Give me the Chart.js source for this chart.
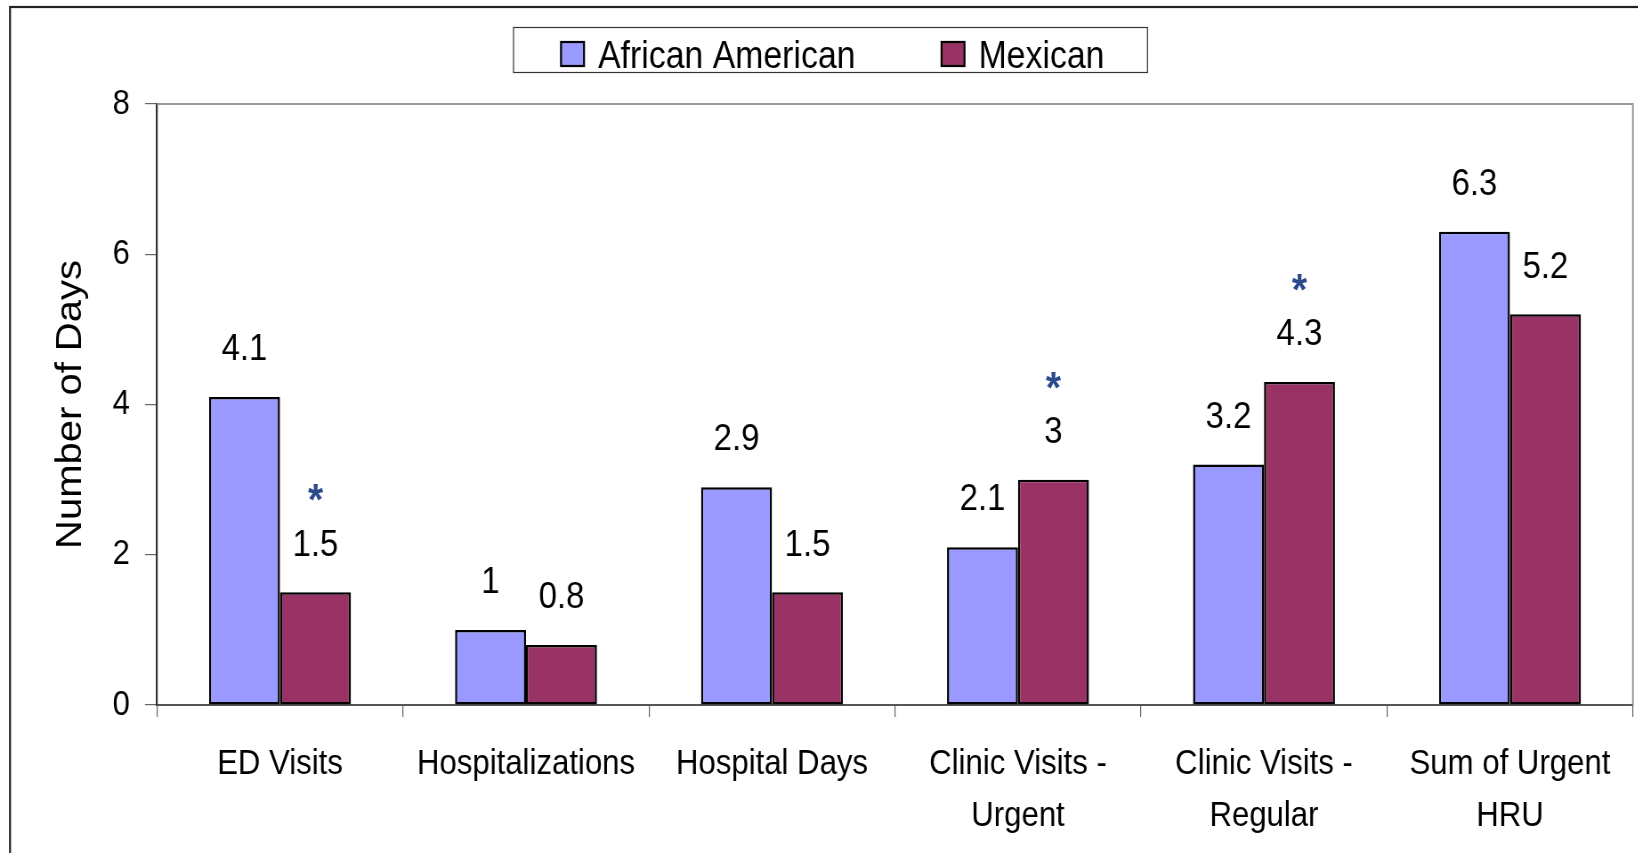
<!DOCTYPE html>
<html>
<head>
<meta charset="utf-8">
<title>Health resource use by group</title>
<script src="https://cdn.jsdelivr.net/npm/chart.js@4.4.1/dist/chart.umd.min.js"></script>
<style>
  html, body { margin: 0; padding: 0; background: #ffffff; overflow: hidden; }
  /* the source picture is horizontally condensed, so draw wide and squeeze */
  #wrap { position: relative; height: 853px; transform-origin: 0 0; }
</style>
</head>
<body>
<div id="wrap"><canvas id="hru-chart"></canvas></div>
<script>
// Data
const categories = [
  'ED Visits',
  'Hospitalizations',
  'Hospital Days',
  ['Clinic Visits -', 'Urgent'],
  ['Clinic Visits -', 'Regular'],
  ['Sum of Urgent', 'HRU']
];
const africanAmerican = [4.1, 1, 2.9, 2.1, 3.2, 6.3];
const mexican = [1.5, 0.8, 1.5, 3, 4.3, 5.2];
const mexicanSignificant = [true, false, false, true, true, false]; // the blue asterisks
const yMin = 0;
const yMax = 8;
const yStep = 2;
const seriesNames = ['African American', 'Mexican'];
const seriesColors = ['#9999FF', '#993366'];

const SX = 0.89;          // horizontal squeeze of the whole picture
const px = (v) => v / SX; // page x -> canvas x
const SANS = "'Liberation Sans', Arial, sans-serif";

const wrap = document.getElementById('wrap');
wrap.style.width = px(1638) + 'px';
wrap.style.transform = 'scaleX(' + SX + ')';

// frame, plot border, value labels, asterisks and boxed legend
const decorations = {
  id: 'decorations',
  afterDatasetsDraw(chart) {
    const ctx = chart.ctx;
    ctx.save();
    ctx.fillStyle = '#000000';
    ctx.font = '37px ' + SANS;
    ctx.textAlign = 'center';
    ctx.textBaseline = 'middle';
    chart.data.datasets.forEach((ds, i) => {
      const meta = chart.getDatasetMeta(i);
      meta.data.forEach((bar, j) => {
        ctx.fillText(String(ds.data[j]), bar.x, bar.y - 47);
      });
    });
    // significance markers above the Mexican labels
    const mexMeta = chart.getDatasetMeta(1);
    ctx.fillStyle = '#2B4A8C';
    ctx.font = 'bold 44px ' + SANS;
    ctx.textBaseline = 'alphabetic';
    mexMeta.data.forEach((bar, j) => {
      if (mexicanSignificant[j]) {
        ctx.fillText('*', bar.x, bar.y - 102 + 0.57 * 44);
      }
    });
    ctx.restore();
  },
  afterDraw(chart) {
    const ctx = chart.ctx;
    const area = chart.chartArea;
    ctx.save();
    // outer frame (runs off the right and bottom of the picture)
    ctx.strokeStyle = '#222222';
    ctx.lineWidth = 2.2;
    ctx.strokeRect(px(10), 7, px(1700), 900);
    // plot area border, top and right
    ctx.strokeStyle = '#999999';
    ctx.lineWidth = 2;
    ctx.beginPath();
    ctx.moveTo(area.left, area.top);
    ctx.lineTo(area.right, area.top);
    ctx.lineTo(area.right, area.bottom);
    ctx.stroke();

    // legend box
    ctx.strokeStyle = '#333333';
    ctx.lineWidth = 1.2;
    ctx.strokeRect(px(513.5), 27.5, px(634), 45);
    ctx.font = '38px ' + SANS;
    ctx.textAlign = 'left';
    ctx.textBaseline = 'alphabetic';
    let x = px(561);
    chart.data.datasets.forEach((ds) => {
      ctx.fillStyle = ds.backgroundColor;
      ctx.fillRect(x, 42, px(23), 24);
      ctx.strokeStyle = '#000000';
      ctx.lineWidth = 2.2;
      ctx.strokeRect(x, 42, px(23), 24);
      ctx.fillStyle = '#000000';
      ctx.fillText(ds.label, x + px(37), 68);
      x += px(37) + ctx.measureText(ds.label).width + px(86);
    });
    ctx.restore();
  }
};

function createHruChart() {
  const hruCtx = document.getElementById('hru-chart').getContext('2d');
  new Chart(hruCtx, {
    type: 'bar',
    data: {
      labels: categories,
      datasets: [{
        label: seriesNames[0],
        data: africanAmerican,
        backgroundColor: seriesColors[0],
        borderColor: '#000000',
        borderWidth: 2.5,
        borderSkipped: false
      }, {
        label: seriesNames[1],
        data: mexican,
        backgroundColor: seriesColors[1],
        borderColor: '#000000',
        borderWidth: 2.5,
        borderSkipped: false
      }]
    },
    options: {
      responsive: true,
      maintainAspectRatio: false,
      animation: false,
      layout: {
        padding: { top: 104, right: px(5), bottom: 0, left: 0 }
      },
      datasets: {
        bar: { categoryPercentage: 0.577, barPercentage: 1.0 }
      },
      plugins: {
        legend: { display: false },
        tooltip: { enabled: false }
      },
      scales: {
        x: {
          offset: true,
          grid: {
            offset: true,
            drawOnChartArea: false,
            drawTicks: true,
            tickLength: 12,
            color: '#666666',
            lineWidth: 1.2
          },
          border: { display: true, color: '#555555', width: 2 },
          ticks: {
            color: '#000000',
            padding: 21,
            maxRotation: 0,
            autoSkip: false,
            font: { family: SANS, size: 35, lineHeight: 1.5 }
          },
          afterFit: (scale) => { scale.height = 148; }
        },
        y: {
          min: yMin,
          max: yMax,
          grid: {
            drawOnChartArea: false,
            drawTicks: true,
            tickLength: px(12),
            color: '#666666',
            lineWidth: 1.2
          },
          border: { display: true, color: '#333333', width: 2.2 },
          ticks: {
            stepSize: yStep,
            color: '#000000',
            padding: px(15),
            font: { family: SANS, size: 35 }
          },
          title: {
            display: true,
            text: 'Number of Days',
            color: '#000000',
            padding: { top: px(71) - 24, bottom: 0 },
            font: { family: SANS, size: 40, lineHeight: 1.2 }
          },
          afterFit: (scale) => { scale.width = px(157); }
        }
      }
    },
    plugins: [decorations]
  });
}

document.addEventListener('DOMContentLoaded', () => {
  createHruChart();
});
</script>
</body>
</html>
